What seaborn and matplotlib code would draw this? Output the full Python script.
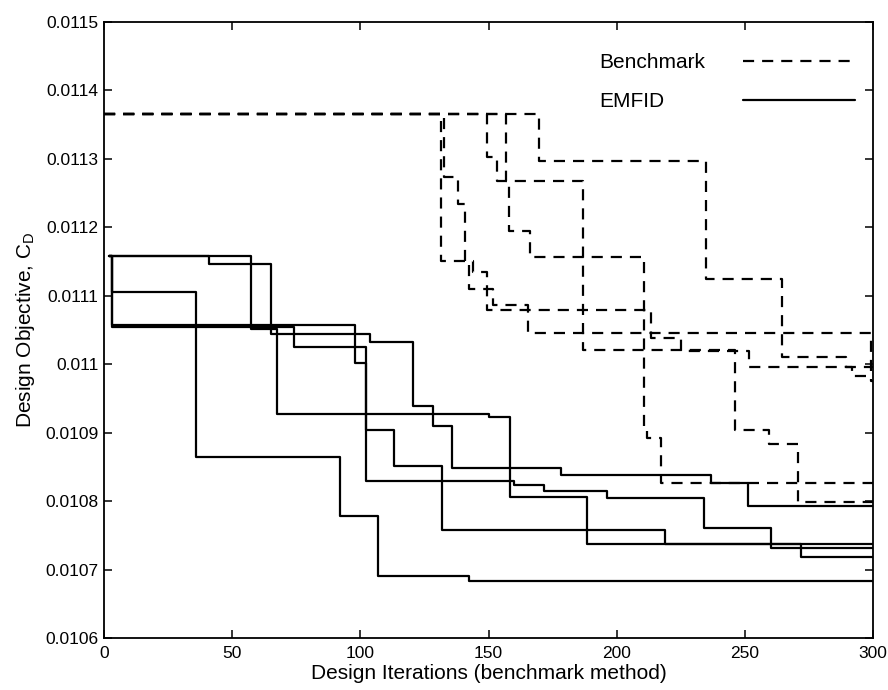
import matplotlib
matplotlib.use("Agg")
import matplotlib.pyplot as plt
import seaborn as sns
import pandas as pd
from matplotlib.lines import Line2D

# Benchmark optimisation histories (best C_D so far vs. iteration, step-post)
bench_x = [
    [0, 131.4, 142.2, 151.7, 165.4, 299.3, 300],
    [0, 132.6, 138.0, 140.7, 144.0, 149.6, 213.2, 225.0, 251.6, 291.8, 300],
    [0, 149.6, 153.4, 158.0, 166.0, 210.5, 212.0, 217.3, 300],
    [0, 156.7, 186.7, 246.2, 259.5, 270.7, 300],
    [0, 169.8, 234.9, 264.5, 289.4, 300],
]
bench_y = [
    [0.011365, 0.011151, 0.011110, 0.011087, 0.011045, 0.010975, 0.010975],
    [0.011365, 0.011274, 0.011234, 0.011151, 0.011135, 0.011079, 0.011039,
     0.011020, 0.010996, 0.010983, 0.010983],
    [0.011365, 0.011303, 0.011267, 0.011194, 0.011156, 0.010908, 0.010892,
     0.010826, 0.010826],
    [0.011365, 0.011267, 0.011021, 0.010904, 0.010884, 0.010799, 0.010799],
    [0.011365, 0.011297, 0.011125, 0.011010, 0.010996, 0.010996],
]

# EMFID optimisation histories
emfid_x = [
    [2, 57.4, 67.6, 150.3, 158.3, 188.3, 272, 300],
    [2, 3, 97.8, 102.1, 160, 171.7, 196.3, 234, 260.3, 300],
    [2, 3, 74.3, 102.3, 113.2, 131.8, 218.7, 300],
    [2, 40.9, 65.0, 103.6, 120.4, 128.5, 135.7, 178.2, 236.9, 251.4, 300],
    [2, 3, 35.7, 92.1, 106.9, 142.5, 300],
]
emfid_y = [
    [0.011158, 0.011051, 0.010927, 0.010923, 0.010806, 0.010738, 0.010719, 0.010719],
    [0.011158, 0.011057, 0.011002, 0.010830, 0.010824, 0.010815, 0.010805, 0.010761,
     0.010732, 0.010732],
    [0.011158, 0.011055, 0.011025, 0.010904, 0.010852, 0.010758, 0.010738, 0.010738],
    [0.011158, 0.011146, 0.011044, 0.011033, 0.010939, 0.010910, 0.010849, 0.010838,
     0.010826, 0.010793, 0.010793],
    [0.011158, 0.011105, 0.010865, 0.010778, 0.010690, 0.010683, 0.010683],
]

x_ticks = [0, 50, 100, 150, 200, 250, 300]
y_ticks = [0.0106, 0.0107, 0.0108, 0.0109, 0.011, 0.0111, 0.0112, 0.0113, 0.0114, 0.0115]
y_tick_labels = ["0.0106", "0.0107", "0.0108", "0.0109", "0.011", "0.0111",
                 "0.0112", "0.0113", "0.0114", "0.0115"]
legend_labels = ["Benchmark", "EMFID"]

rows = []
for i, (xs, ys) in enumerate(zip(bench_x, bench_y)):
    for x, y in zip(xs, ys):
        rows.append({"iter": x, "cd": y, "run": f"B{i}", "method": "Benchmark"})
for i, (xs, ys) in enumerate(zip(emfid_x, emfid_y)):
    for x, y in zip(xs, ys):
        rows.append({"iter": x, "cd": y, "run": f"E{i}", "method": "EMFID"})
df = pd.DataFrame(rows)

sns.set_theme(style="ticks")
plt.rcParams["font.family"] = ["Liberation Sans", "DejaVu Sans"]
for key in ("text.color", "axes.labelcolor", "xtick.color", "ytick.color", "axes.edgecolor"):
    plt.rcParams[key] = "black"

fig = plt.figure(figsize=(8.88, 6.90), dpi=100)
ax = fig.add_axes([104 / 888, 1 - 638 / 690, 769 / 888, 616 / 690])

LW = 1.6
styles = {"Benchmark": (0, (5.0, 3.6)), "EMFID": "-"}
for run, sub in df.groupby("run", sort=False):
    method = sub["method"].iloc[0]
    sns.lineplot(data=sub, x="iter", y="cd", ax=ax, estimator=None, sort=False,
                 drawstyle="steps-post", color="black", linewidth=LW,
                 linestyle=styles[method], legend=False)

ax.set_xlim(0, 300)
ax.set_ylim(0.0106, 0.0115)
ax.set_xticks(x_ticks)
ax.set_xticklabels([str(t) for t in x_ticks])
ax.set_yticks(y_ticks)
ax.set_yticklabels(y_tick_labels)
ax.tick_params(direction="in", length=6, width=1.1, labelsize=12.5,
               top=True, right=True)
ax.tick_params(axis="x", pad=6)
ax.tick_params(axis="y", pad=4)
for s in ax.spines.values():
    s.set_linewidth(1.3)
ax.set_xlabel("Design Iterations (benchmark method)", fontsize=15, labelpad=2)
ax.set_ylabel("Design Objective, C$_\\mathregular{D}$", fontsize=15, labelpad=6)

handles = [Line2D([], [], color="black", linewidth=LW, linestyle=styles["Benchmark"]),
           Line2D([], [], color="black", linewidth=LW, linestyle="-")]
leg = ax.legend(handles, legend_labels, loc="upper right", bbox_to_anchor=(0.9766, 0.949),
                frameon=False, markerfirst=False, fontsize=15, handlelength=5.4,
                handletextpad=1.8, labelspacing=0.95, borderpad=0, borderaxespad=0)

# left-align the legend texts while keeping the line samples in one column
renderer = fig.canvas.get_renderer()
widths = [t.get_window_extent(renderer).width for t in leg.get_texts()]
wmax = max(widths)
column = leg._legend_handle_box.get_children()[0]
column.align = "left"
for row, w in zip(column.get_children(), widths):
    row.sep = row.sep + (wmax - w) * 72 / fig.dpi

fig.savefig("out.png", dpi=100)
